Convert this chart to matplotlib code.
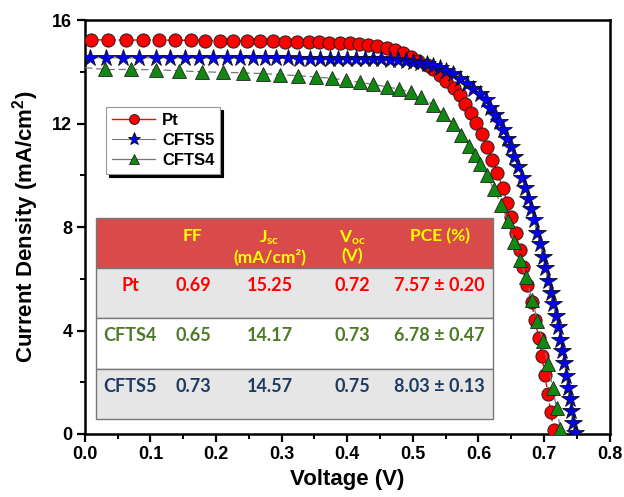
import numpy as np
import matplotlib; matplotlib.use('Agg'); import matplotlib.pyplot as plt
from matplotlib.patches import Rectangle

plt.rcParams['font.family'] = ['Liberation Sans', 'DejaVu Sans']
plt.rcParams['font.weight'] = 'bold'
plt.rcParams['mathtext.fontset'] = 'custom'
plt.rcParams['mathtext.rm'] = 'Liberation Sans:bold'
plt.rcParams['mathtext.bf'] = 'Liberation Sans:bold'

# J-V data (V in volts, J in mA/cm2)
v_pt = [0.009, 0.035, 0.062, 0.088, 0.113, 0.137, 0.162, 0.183, 0.206, 0.226, 0.247, 0.267, 0.287, 0.305,
        0.323, 0.341, 0.357, 0.372, 0.389, 0.404, 0.418, 0.432, 0.446, 0.460, 0.473, 0.485, 0.497, 0.508,
        0.521, 0.531, 0.541, 0.551, 0.563, 0.572, 0.580, 0.589, 0.597, 0.606, 0.613, 0.621, 0.629, 0.637,
        0.644, 0.650, 0.657, 0.663, 0.668, 0.674, 0.681, 0.686, 0.692, 0.697, 0.701, 0.706, 0.710, 0.715]
j_pt = [15.25, 15.24, 15.24, 15.24, 15.24, 15.23, 15.23, 15.22, 15.22, 15.21, 15.21, 15.20, 15.19, 15.18,
        15.17, 15.16, 15.15, 15.14, 15.13, 15.12, 15.10, 15.06, 15.01, 14.93, 14.84, 14.73, 14.59, 14.43,
        14.26, 14.10, 13.90, 13.64, 13.38, 13.10, 12.75, 12.40, 12.03, 11.59, 11.10, 10.61, 10.09, 9.51,
        8.93, 8.38, 7.76, 7.12, 6.45, 5.76, 5.09, 4.41, 3.71, 3.00, 2.28, 1.56, 0.83, 0.14]

v_c5 = [0.008, 0.032, 0.058, 0.083, 0.108, 0.130, 0.152, 0.174, 0.196, 0.216, 0.236, 0.256, 0.274, 0.292,
        0.310, 0.327, 0.343, 0.358, 0.373, 0.386, 0.399, 0.413, 0.427, 0.440, 0.452, 0.465, 0.478, 0.489,
        0.500, 0.511, 0.521, 0.531, 0.541, 0.551, 0.561, 0.572, 0.582, 0.592, 0.602, 0.611, 0.618, 0.625,
        0.632, 0.638, 0.644, 0.649, 0.654, 0.661, 0.666, 0.671, 0.676, 0.680, 0.685, 0.689, 0.694, 0.698,
        0.702, 0.706, 0.710, 0.713, 0.718, 0.722, 0.725, 0.728, 0.731, 0.734, 0.736, 0.739, 0.741, 0.744, 0.747]
j_c5 = [14.55, 14.55, 14.55, 14.55, 14.55, 14.55, 14.54, 14.54, 14.54, 14.54, 14.54, 14.53, 14.53, 14.53,
        14.53, 14.52, 14.52, 14.52, 14.52, 14.52, 14.52, 14.51, 14.51, 14.50, 14.49, 14.48, 14.46, 14.43,
        14.39, 14.36, 14.31, 14.24, 14.16, 14.04, 13.91, 13.75, 13.55, 13.36, 13.14, 12.91, 12.62, 12.33,
        12.07, 11.74, 11.42, 11.10, 10.71, 10.32, 9.91, 9.52, 9.10, 8.71, 8.26, 7.76, 7.33, 6.86,
        6.42, 5.90, 5.45, 5.03, 4.57, 4.12, 3.65, 3.20, 2.74, 2.25, 1.79, 1.34, 0.89, 0.44, 0.05]

v_c4 = [0.000, 0.031, 0.070, 0.108, 0.144, 0.178, 0.211, 0.241, 0.271, 0.298, 0.325, 0.352, 0.377, 0.398,
        0.419, 0.440, 0.460, 0.479, 0.497, 0.513, 0.530, 0.546, 0.561, 0.574, 0.585, 0.594, 0.603, 0.613,
        0.623, 0.635, 0.645, 0.654, 0.664, 0.672, 0.682, 0.690, 0.698, 0.706, 0.713, 0.719, 0.725]
j_c4 = [14.17, 14.10, 14.10, 14.09, 14.05, 14.01, 13.99, 13.97, 13.94, 13.90, 13.86, 13.81, 13.76, 13.68,
        13.60, 13.52, 13.43, 13.34, 13.22, 13.03, 12.74, 12.39, 12.00, 11.55, 11.13, 10.80, 10.45, 10.00,
        9.48, 8.86, 8.22, 7.44, 6.73, 6.06, 5.18, 4.38, 3.60, 2.70, 1.79, 1.02, 0.18]

# table contents
col_heads = ['FF', r'$\mathregular{J_{sc}}$' + '\n(mA/cm²)', r'$\mathregular{V_{oc}}$' + '\n(V)', 'PCE (%)']
row_names = ['Pt', 'CFTS4', 'CFTS5']
row_vals = [['0.69', '15.25', '0.72', '7.57 ± 0.20'],
            ['0.65', '14.17', '0.73', '6.78 ± 0.47'],
            ['0.73', '14.57', '0.75', '8.03 ± 0.13']]
row_cols = ['#ff0000', '#4e7a27', '#1f3a60']
row_bg = ['#e6e6e6', '#ffffff', '#e6e6e6']

fig = plt.figure(figsize=(6.24, 4.97), dpi=100)
ax = fig.add_axes([0.136, 0.127, 0.841, 0.832])

ax.plot(v_pt, j_pt, color='red', lw=1.0, ls=(0, (3, 2)), marker='o', ms=9.5, mfc='red', mec='#222222',
        mew=0.7, label='Pt', zorder=3)
ax.plot(v_c5, j_c5, color='#777777', lw=0.8, marker='*', ms=13, mfc='#0000ee', mec='#111111',
        mew=0.6, label='CFTS5', zorder=4)
ax.plot(v_c4, j_c4, color='#777777', lw=0.9, ls=(0, (6, 3)), marker='^', ms=10, mfc='#118811',
        mec='#222222', mew=0.6, markevery=range(1, len(v_c4)), label='CFTS4', zorder=5)

ax.set_xlim(0, 0.8); ax.set_ylim(0, 16)
ax.set_xticks(np.arange(0, 0.81, 0.1)); ax.set_xticks(np.arange(0.05, 0.8, 0.1), minor=True)
ax.set_yticks([0, 4, 8, 12, 16]); ax.set_yticks([2, 6, 10, 14], minor=True)
ax.xaxis.set_major_formatter(matplotlib.ticker.FormatStrFormatter('%.1f'))
ax.tick_params(which='major', direction='out', length=5.5, width=1.6, labelsize=13)
ax.tick_params(which='minor', direction='out', length=3.5, width=1.4)
for s in ax.spines.values(): s.set_linewidth(1.8)
ax.set_xlabel('Voltage (V)', fontsize=16, fontweight='bold', labelpad=4)
ax.set_ylabel('Current Density (mA/cm$^2$)', fontsize=16, fontweight='bold', labelpad=8)

leg = ax.legend(loc='upper left', bbox_to_anchor=(0.025, 0.81), fontsize=12, frameon=True, fancybox=False,
                shadow={'color': 'black', 'alpha': 1}, edgecolor='#999999', framealpha=1, markerscale=0.75,
                handlelength=2.6, borderpad=0.35, labelspacing=0.3, handletextpad=0.4)
leg.get_frame().set_linewidth(0.8)
for ln in leg.get_lines(): ln.set_linestyle('-')

# results table (axes-fraction layout)
tx0, tx1 = 0.021, 0.777
ty = [0.523, 0.400, 0.281, 0.157, 0.036]
colx = [0.086, 0.206, 0.352, 0.510, 0.676]
tfont = ['Lato', 'DejaVu Sans']
ax.add_patch(Rectangle((tx0, ty[1]), tx1 - tx0, ty[0] - ty[1], transform=ax.transAxes,
                       facecolor='#d94b4b', edgecolor='#777777', lw=1.0, zorder=6))
for i, bg in enumerate(row_bg):
    ax.add_patch(Rectangle((tx0, ty[i + 2]), tx1 - tx0, ty[i + 1] - ty[i + 2], transform=ax.transAxes,
                           facecolor=bg, edgecolor='#777777', lw=1.0, zorder=6))
for x, h in zip(colx[1:], col_heads):
    ax.text(x, 0.497, h, transform=ax.transAxes, ha='center', va='top', color='#ffff00', fontsize=12.5,
            family=tfont, fontweight='bold', linespacing=1.1, zorder=7)
for i, (nm, vals, c) in enumerate(zip(row_names, row_vals, row_cols)):
    yy = ty[i + 1] - 0.042
    for x, s in zip(colx, [nm] + vals):
        ax.text(x, yy, s, transform=ax.transAxes, ha='center', va='center', color=c, fontsize=13,
                family=tfont, fontweight='bold', zorder=7)

fig.savefig('out.png', dpi=100)
